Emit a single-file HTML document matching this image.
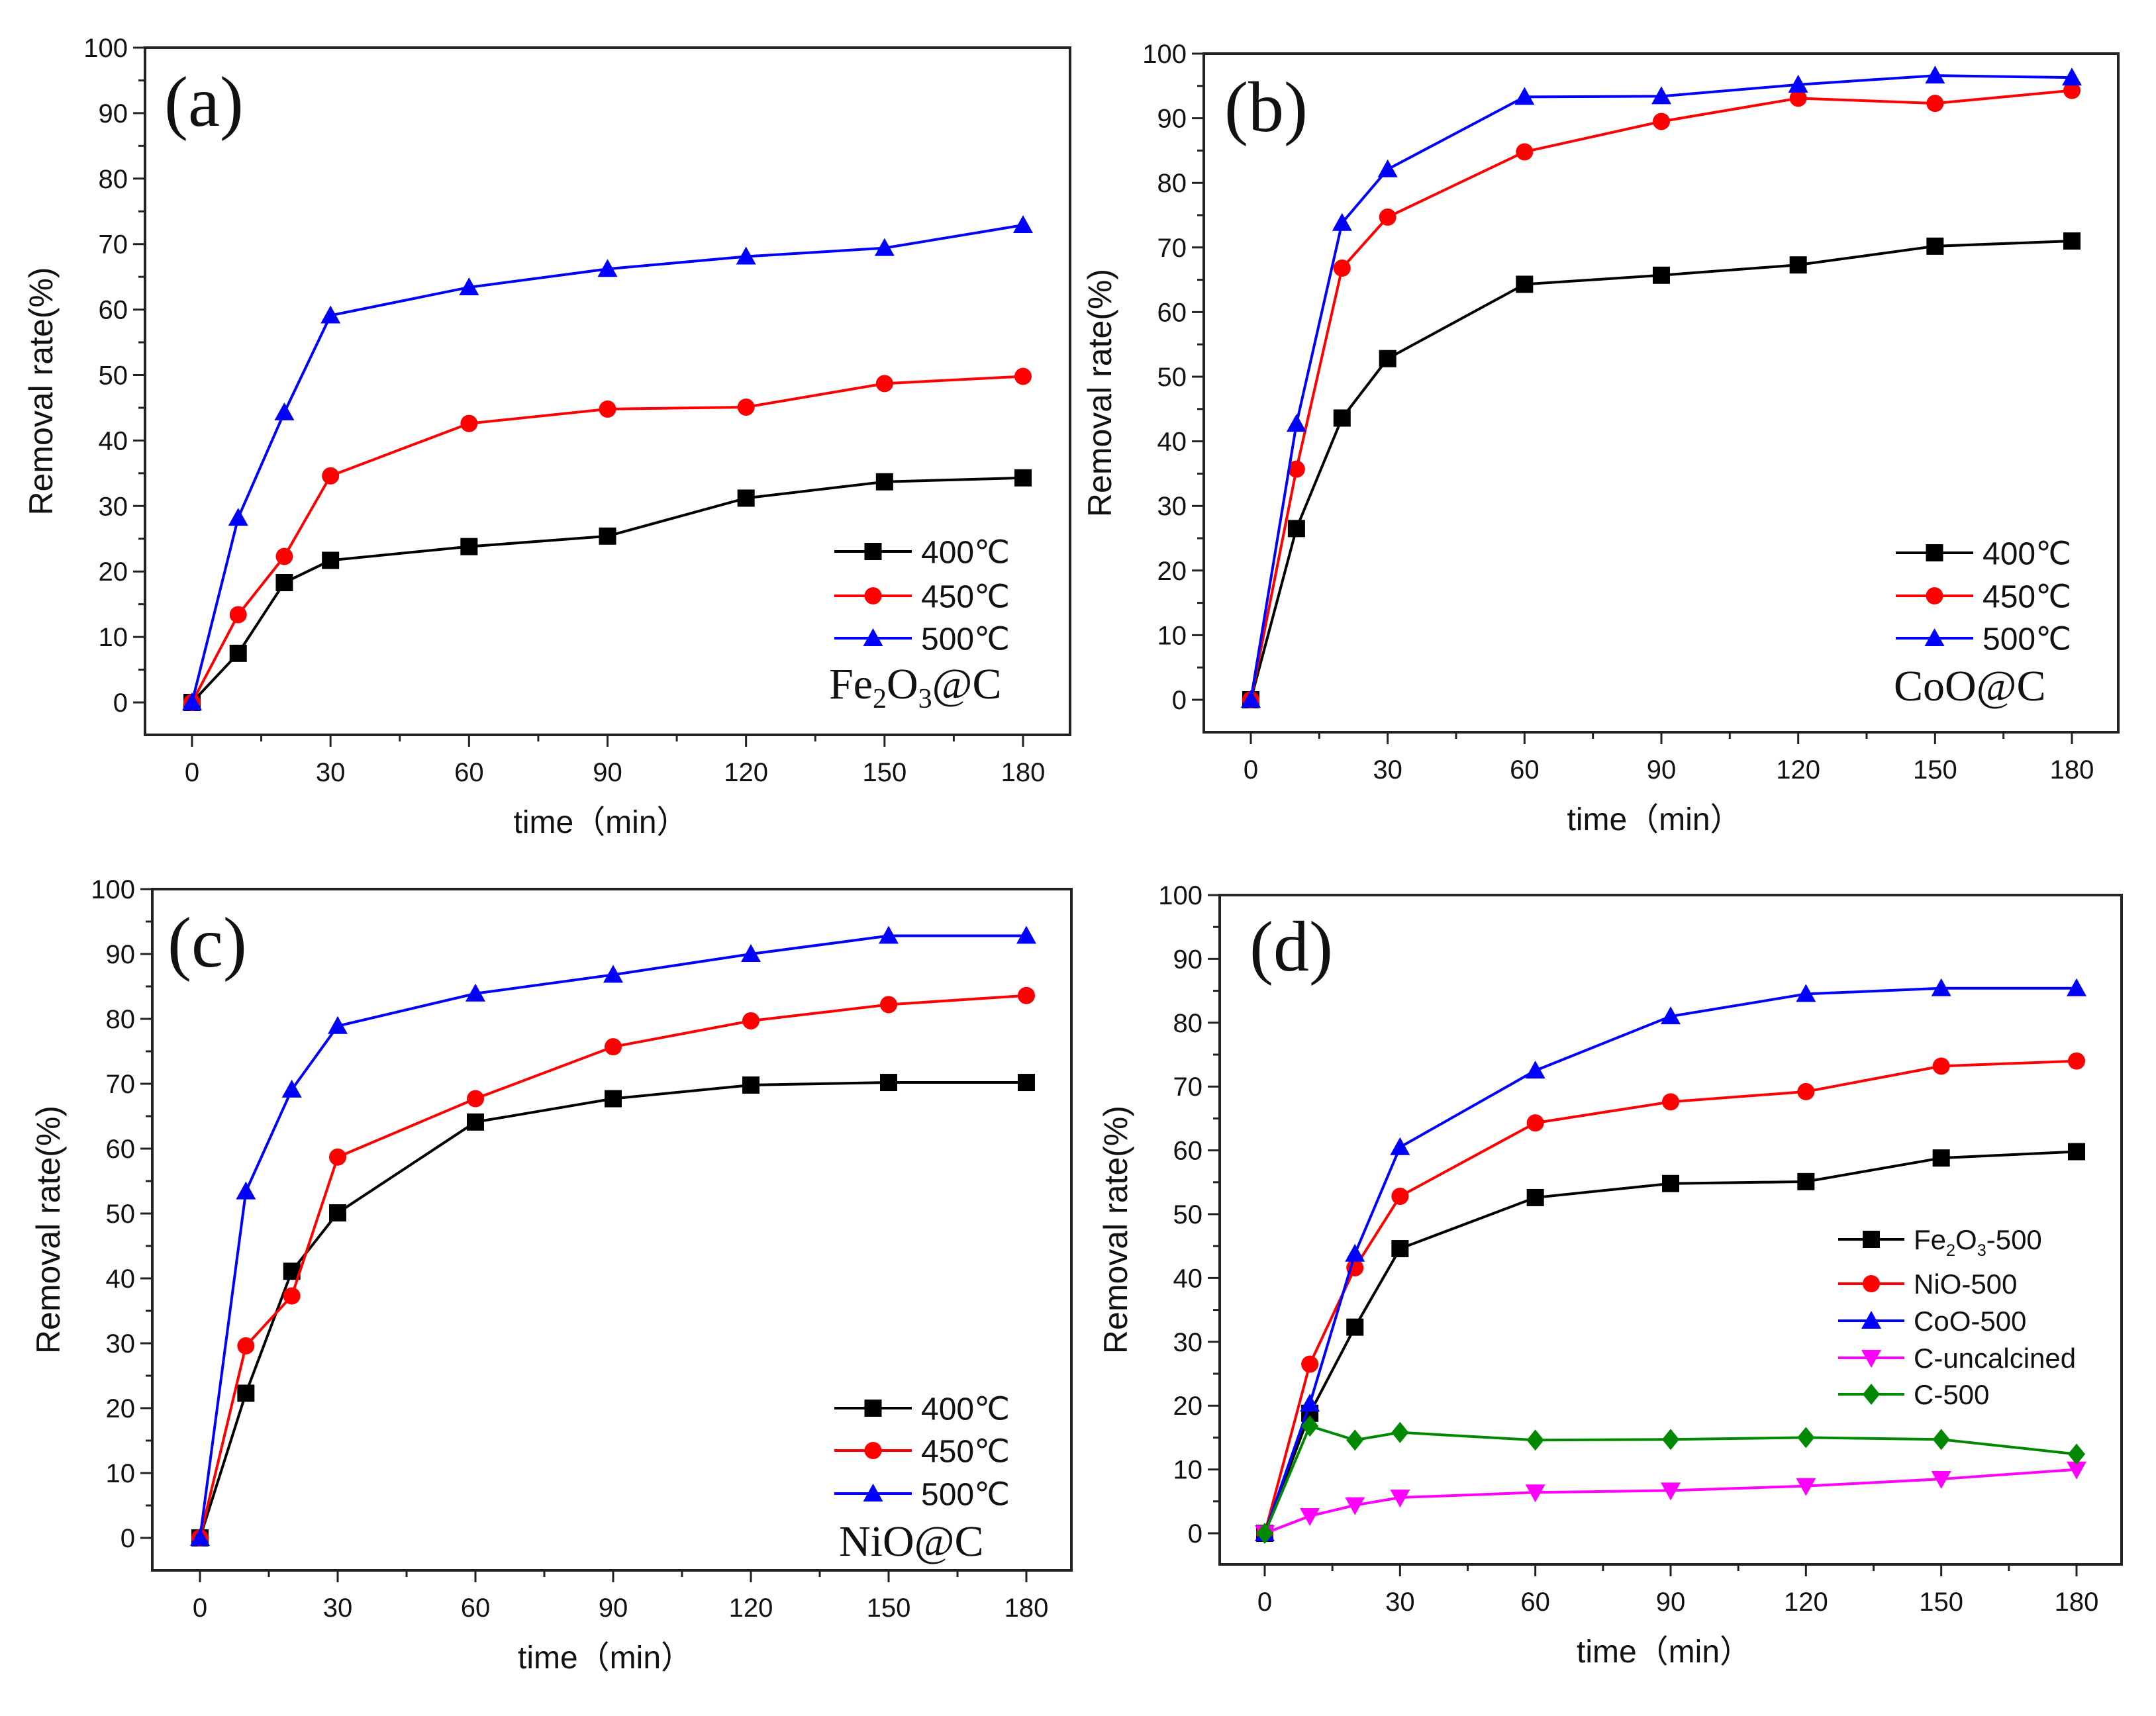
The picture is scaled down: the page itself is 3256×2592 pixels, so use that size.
<!DOCTYPE html>
<html><head><meta charset="utf-8"><style>
html,body{margin:0;padding:0;background:#fff}
svg{display:block}
text{font-family:"Liberation Sans",sans-serif}
</style></head><body>
<svg id="fig" width="3256" height="2592" viewBox="0 0 3256 2592" xmlns="http://www.w3.org/2000/svg"></svg>
<script>
const times = [0,10,20,30,60,90,120,150,180];
const xTicks = [0,30,60,90,120,150,180];
const yTicks = [0,10,20,30,40,50,60,70,80,90,100];
const a400 = [0,7.5,18.3,21.7,23.8,25.4,31.2,33.7,34.3];
const a450 = [0,13.4,22.3,34.6,42.6,44.8,45.1,48.7,49.8];
const a500 = [0,28.2,44.3,59.1,63.4,66.2,68.1,69.4,72.9];
const b400 = [0,26.5,43.6,52.8,64.3,65.7,67.3,70.2,71];
const b450 = [0,35.7,66.8,74.7,84.8,89.5,93.1,92.3,94.3];
const b500 = [0,42.7,73.8,82.1,93.3,93.4,95.2,96.6,96.3];
const c400 = [0,22.3,41.1,50.1,64.1,67.7,69.8,70.2,70.2];
const c450 = [0,29.6,37.3,58.7,67.7,75.7,79.7,82.2,83.6];
const c500 = [0,53.4,69.1,78.9,83.9,86.8,90,92.8,92.8];
const dFe = [0,18.8,32.3,44.6,52.6,54.8,55.1,58.8,59.8];
const dNi = [0,26.5,41.6,52.8,64.3,67.6,69.2,73.2,74];
const dCo = [0,20.3,43.8,60.5,72.5,81,84.5,85.4,85.4];
const dCu = [0,2.7,4.4,5.6,6.4,6.7,7.4,8.5,10];
const dC5 = [0,16.8,14.6,15.8,14.6,14.7,15,14.7,12.4];

const NS="http://www.w3.org/2000/svg";
const svg=document.getElementById('fig');
function el(tag,attrs,parent,txt){const e=document.createElementNS(NS,tag);for(const k in attrs)e.setAttribute(k,attrs[k]);if(txt!==undefined)e.textContent=txt;(parent||svg).appendChild(e);return e;}

function marker(g,type,x,y,color){
  const s=13;let m;
  if(type==='square') m=el('rect',{x:x-s,y:y-s,width:2*s,height:2*s,fill:color},g);
  else if(type==='circle') m=el('circle',{cx:x,cy:y,r:s,fill:color},g);
  else if(type==='up') m=el('polygon',{points:`${x},${y-15} ${x-15},${y+12} ${x+15},${y+12}`,fill:color},g);
  else if(type==='down') m=el('polygon',{points:`${x},${y+15} ${x-15},${y-12} ${x+15},${y-12}`,fill:color},g);
  else m=el('polygon',{points:`${x},${y-16} ${x+13},${y} ${x},${y+16} ${x-13},${y}`,fill:color},g);
  
  
}

function panel(P){
  const g=el('g',{},svg);
  
  
  const sx=v=>P.x0+(v/180)*(P.x180-P.x0);
  const sy=v=>P.y0-(v/100)*(P.y0-P.y100);
  const fr=el('rect',{x:P.L,y:P.T,width:P.R-P.L,height:P.B-P.T,fill:'none',stroke:'#222','stroke-width':4},g);
  
  for(let v=0;v<=180;v+=15){const X=sx(v);const major=v%30===0;
    el('line',{x1:X,y1:P.B,x2:X,y2:P.B+(major?18:10),stroke:'#222','stroke-width':3},g);}
  xTicks.forEach(v=>{const t=el('text',{x:sx(v),y:P.B+70,'font-size':40,'text-anchor':'middle',fill:'#111'},g,String(v));
    });
  for(let v=-5;v<=100;v+=5){const Y=sy(v);if(Y>P.B-1)continue;const major=v%10===0;
    el('line',{x1:P.L,y1:Y,x2:P.L-(major?18:10),y2:Y,stroke:'#222','stroke-width':3},g);}
  yTicks.forEach(v=>{const t=el('text',{x:P.L-26,y:sy(v)+14,'font-size':40,'text-anchor':'end',fill:'#111'},g,String(v));
    });
  const xt=el('text',{x:(P.L+P.R)/2-10,y:P.B+148,'font-size':48,'text-anchor':'middle',fill:'#111'},g,'time（min）');
  
  const yc=(P.T+P.B)/2;
  const yt=el('text',{x:P.L-140,y:yc,'font-size':50,'text-anchor':'middle',transform:`rotate(-90 ${P.L-140} ${yc})`,fill:'#111'},g,'Removal rate(%)');
  
  const pl=el('text',{x:P.lx,y:P.ly,'font-size':108,style:'font-family:"Liberation Serif",serif',fill:'#111'},g,'('+P.id+')');
  
  P.series.forEach(s=>{
    const sg=el('g',{},g);
    
    
    el('polyline',{points:times.map((t,i)=>sx(t)+','+sy(s.data[i])).join(' '),fill:'none',stroke:s.color,'stroke-width':4},sg);
    times.forEach((t,i)=>marker(sg,s.m,sx(t),sy(s.data[i]),s.color));
  });
  const lg=el('g',{},g);
  
  P.series.forEach((s,i)=>{
    const y=P.legY[i];
    const e=el('g',{},lg);
    
    el('line',{x1:P.legX,y1:y,x2:P.legX+P.legW,y2:y,stroke:s.color,'stroke-width':4},e);
    marker(e,s.m,P.legX+P.legW/2,y,s.color);
    const t=el('text',{x:P.legX+P.legW+14,y:y+P.legF*0.36,'font-size':P.legF,fill:'#111'},e);
    if(s.label==='Fe2O3-500'){t.textContent='Fe';el('tspan',{'font-size':P.legF*0.6,dy:10},t,'2');el('tspan',{dy:-10},t,'O');el('tspan',{'font-size':P.legF*0.6,dy:10},t,'3');el('tspan',{dy:-10},t,'-500');}
    else t.textContent=s.label;
  });
  if(P.tag){
    const t=el('text',{x:P.tagX,y:P.tagY,'font-size':66,style:'font-family:"Liberation Serif",serif',fill:'#111'},g);
    
    if(P.tag==='Fe2O3@C'){t.textContent='Fe';el('tspan',{'font-size':42,dy:14},t,'2');el('tspan',{dy:-14},t,'O');el('tspan',{'font-size':42,dy:14},t,'3');el('tspan',{dy:-14},t,'@C');}
    else t.textContent=P.tag;
  }
}
const T3=(a,b,c)=>[{name:'400',label:'400℃',data:a,color:'#000',m:'square'},{name:'450',label:'450℃',data:b,color:'#f00',m:'circle'},{name:'500',label:'500℃',data:c,color:'#00f',m:'up'}];
panel({id:'a',L:219,R:1616,T:72,B:1110,x0:290,x180:1545,y0:1061,y100:72,lx:248,ly:190,
  series:T3(a400,a450,a500),legX:1260,legW:117,legY:[833,900,964],legF:48,tag:'Fe2O3@C',tagX:1252,tagY:1055});
panel({id:'b',L:1818,R:3199,T:81,B:1106,x0:1889,x180:3129,y0:1057,y100:81,lx:1849,ly:198,
  series:T3(b400,b450,b500),legX:2863,legW:117,legY:[835,900,964],legF:48,tag:'CoO@C',tagX:2860,tagY:1058});
panel({id:'c',L:230,R:1618,T:1343,B:2372,x0:302,x180:1550,y0:2323,y100:1343,lx:253,ly:1460,
  series:T3(c400,c450,c500),legX:1260,legW:117,legY:[2127,2191,2256],legF:48,tag:'NiO@C',tagX:1267,tagY:2350});
panel({id:'d',L:1842,R:3204,T:1352,B:2363,x0:1910,x180:3136,y0:2316,y100:1352,lx:1887,ly:1466,
  series:[{name:'fe2o3-500',label:'Fe2O3-500',data:dFe,color:'#000',m:'square'},
          {name:'nio-500',label:'NiO-500',data:dNi,color:'#f00',m:'circle'},
          {name:'coo-500',label:'CoO-500',data:dCo,color:'#00f',m:'up'},
          {name:'c-uncalcined',label:'C-uncalcined',data:dCu,color:'#f0f',m:'down'},
          {name:'c-500',label:'C-500',data:dC5,color:'#080',m:'diamond'}],
  legX:2776,legW:100,legY:[1872,1939,1995,2051,2106],legF:42});
</script>
</body></html>
